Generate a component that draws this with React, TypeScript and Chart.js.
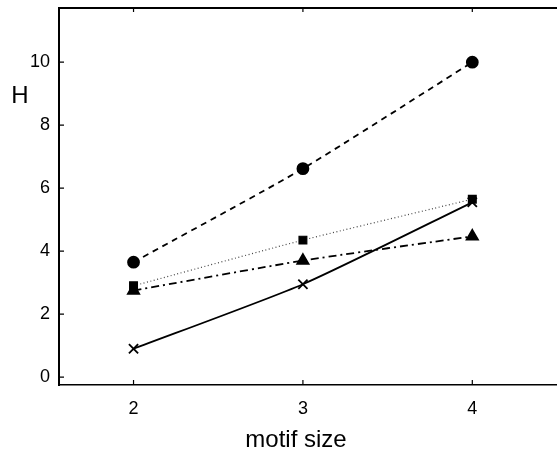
import React, { useEffect, useRef } from "react";
import { Chart, registerables } from "chart.js";

Chart.register(...registerables);

const motifSizes = [2, 3, 4];
const circleSeries = [3.65, 6.62, 10.0];
const squareSeries = [2.9, 4.35, 5.65];
const triangleSeries = [2.75, 3.7, 4.47];
const crossSeries = [0.9, 2.95, 5.55];
const yTickValues = [0, 2, 4, 6, 8, 10];
const xTickValues = [2, 3, 4];

const FONT = "'Liberation Sans', Arial, Helvetica, sans-serif";

const framePlugin = {
  id: "framePlugin",
  afterDraw(chart: any) {
    const ctx = chart.ctx;
    const { left, right, top, bottom } = chart.chartArea;
    const xs = chart.scales.x;
    const ys = chart.scales.y;
    ctx.save();
    ctx.strokeStyle = "#000";
    ctx.lineWidth = 2;
    ctx.beginPath();
    ctx.moveTo(left - 1, top);
    ctx.lineTo(right, top);
    ctx.stroke();
    ctx.lineWidth = 1.2;
    ctx.beginPath();
    for (const v of xTickValues) {
      const px = xs.getPixelForValue(v);
      ctx.moveTo(px, bottom);
      ctx.lineTo(px, bottom - 5);
      ctx.moveTo(px, top);
      ctx.lineTo(px, top + 4);
    }
    for (const v of yTickValues) {
      const py = ys.getPixelForValue(v);
      ctx.moveTo(left, py);
      ctx.lineTo(left + 5, py);
    }
    ctx.stroke();
    ctx.fillStyle = "#000";
    ctx.font = "24px " + FONT;
    ctx.textAlign = "center";
    ctx.textBaseline = "middle";
    ctx.fillText("H", 20, 96);
    ctx.fillText("motif size", 296, 440);
    ctx.restore();
  },
};

export default function App() {
  const ref = useRef<HTMLCanvasElement | null>(null);
  useEffect(() => {
    document.body.style.margin = "0";
    const toXY = (arr: number[]) => arr.map((y, i) => ({ x: motifSizes[i], y }));
    const common = {
      borderColor: "#000",
      backgroundColor: "#000",
      pointBackgroundColor: "#000",
      pointBorderColor: "#000",
      tension: 0.2,
      fill: false,
    };
    const chart = new Chart(ref.current as HTMLCanvasElement, {
      type: "line",
      data: {
        datasets: [
          {
            ...common,
            label: "circles",
            data: toXY(circleSeries),
            borderWidth: 1.8,
            borderDash: [6, 5],
            pointStyle: "circle",
            pointRadius: 5.5,
          },
          {
            ...common,
            label: "squares",
            data: toXY(squareSeries),
            borderColor: "#444",
            borderWidth: 1.2,
            borderDash: [1, 2.5],
            pointStyle: "rect",
            pointRadius: 5.5,
          },
          {
            ...common,
            label: "triangles",
            data: toXY(triangleSeries),
            borderWidth: 1.8,
            borderDash: [8, 4, 2, 4],
            pointStyle: "triangle",
            pointRadius: 6.5,
          },
          {
            ...common,
            label: "crosses",
            data: toXY(crossSeries),
            borderWidth: 1.8,
            pointStyle: "crossRot",
            pointRadius: 6.5,
            pointBorderWidth: 1.8,
          },
        ],
      } as any,
      options: {
        animation: false,
        responsive: false,
        devicePixelRatio: 1,
        layout: { autoPadding: false, padding: { top: 8, right: 0, left: 0, bottom: 0 } },
        plugins: { legend: { display: false }, tooltip: { enabled: false } },
        scales: {
          x: {
            type: "linear",
            min: 1.56,
            max: 4.5,
            grid: { display: false, drawTicks: false },
            border: { display: true, color: "#000", width: 1.5 },
            afterBuildTicks: (s: any) => {
              s.ticks = xTickValues.map((v) => ({ value: v }));
            },
            afterFit: (s: any) => {
              s.height = 67;
              s.paddingLeft = 0;
              s.paddingRight = 0;
            },
            ticks: {
              color: "#000",
              font: { family: FONT, size: 18 },
              padding: 13,
              maxRotation: 0,
              callback: (v: any) => String(v),
            },
          },
          y: {
            type: "linear",
            min: -0.25,
            max: 11.72,
            grid: { display: false, drawTicks: false },
            border: { display: true, color: "#000", width: 2 },
            afterBuildTicks: (s: any) => {
              s.ticks = yTickValues.map((v) => ({ value: v }));
            },
            afterFit: (s: any) => {
              s.width = 59;
              s.paddingTop = 0;
              s.paddingBottom = 0;
            },
            ticks: {
              color: "#000",
              font: { family: FONT, size: 18 },
              padding: 9,
              callback: (v: any) => String(v),
            },
          },
        },
      } as any,
      plugins: [framePlugin],
    });
    return () => chart.destroy();
  }, []);
  return <canvas ref={ref} width={557} height={452} style={{ display: "block" }} />;
}
